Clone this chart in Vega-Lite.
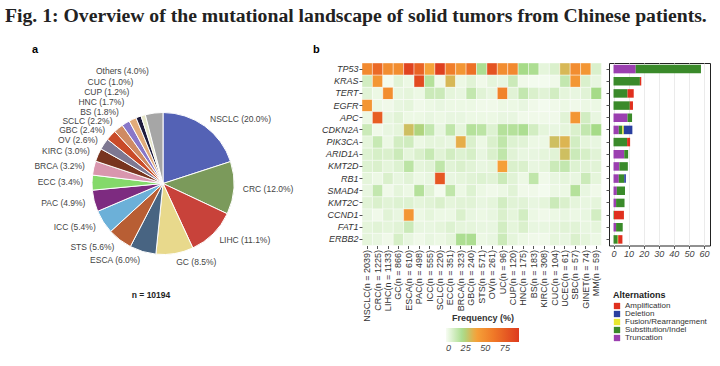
{
  "$schema": "https://vega.github.io/schema/vega-lite/v6.json",
  "padding": {"left": 5, "top": 5, "right": 5, "bottom": 0},
  "title": {"text": "Fig. 1: Overview of the mutational landscape of solid tumors from Chinese patients.", "anchor": "start", "font": "Liberation Serif", "fontSize": 19.7, "fontWeight": "bold", "color": "#222222", "offset": 18},
  "spacing": -8,
  "config": {"view": {"stroke": null}, "font": "Liberation Sans"},
  "datasets": {
    "pie": [
      {"type": "NSCLC", "label": "NSCLC (20.0%)", "pct": 20.0},
      {"type": "CRC", "label": "CRC (12.0%)", "pct": 12.0},
      {"type": "LIHC", "label": "LIHC (11.1%)", "pct": 11.1},
      {"type": "GC", "label": "GC (8.5%)", "pct": 8.5},
      {"type": "ESCA", "label": "ESCA (6.0%)", "pct": 6.0},
      {"type": "STS", "label": "STS (5.6%)", "pct": 5.6},
      {"type": "ICC", "label": "ICC (5.4%)", "pct": 5.4},
      {"type": "PAC", "label": "PAC (4.9%)", "pct": 4.9},
      {"type": "ECC", "label": "ECC (3.4%)", "pct": 3.4},
      {"type": "BRCA", "label": "BRCA (3.2%)", "pct": 3.2},
      {"type": "KIRC", "label": "KIRC (3.0%)", "pct": 3.0},
      {"type": "OV", "label": "OV (2.6%)", "pct": 2.6},
      {"type": "GBC", "label": "GBC (2.4%)", "pct": 2.4},
      {"type": "SCLC", "label": "SCLC (2.2%)", "pct": 2.2},
      {"type": "BS", "label": "BS (1.8%)", "pct": 1.8},
      {"type": "HNC", "label": "HNC (1.7%)", "pct": 1.7},
      {"type": "CUP", "label": "CUP (1.2%)", "pct": 1.2},
      {"type": "CUC", "label": "CUC (1.0%)", "pct": 1.0},
      {"type": "Others", "label": "Others (4.0%)", "pct": 4.0}
    ],
    "note": [{"n": "n = 10194"}],
    "heat": [
      {"tumor": "NSCLC(n = 2039)", "TP53": 52, "KRAS": 10, "TERT": 6, "EGFR": 45, "APC": 3, "CDKN2A": 12, "PIK3CA": 5, "ARID1A": 7, "KMT2D": 7, "RB1": 5, "SMAD4": 4, "KMT2C": 6, "CCND1": 4, "FAT1": 5, "ERBB2": 5},
      {"tumor": "CRC(n = 1225)", "TP53": 68, "KRAS": 45, "TERT": 3, "EGFR": 3, "APC": 75, "CDKN2A": 2, "PIK3CA": 13, "ARID1A": 9, "KMT2D": 8, "RB1": 3, "SMAD4": 14, "KMT2C": 8, "CCND1": 2, "FAT1": 6, "ERBB2": 4},
      {"tumor": "LIHC(n = 1133)", "TP53": 50, "KRAS": 1, "TERT": 50, "EGFR": 2, "APC": 4, "CDKN2A": 4, "PIK3CA": 3, "ARID1A": 8, "KMT2D": 5, "RB1": 8, "SMAD4": 2, "KMT2C": 6, "CCND1": 6, "FAT1": 5, "ERBB2": 2},
      {"tumor": "GC(n = 866)", "TP53": 50, "KRAS": 6, "TERT": 4, "EGFR": 4, "APC": 6, "CDKN2A": 5, "PIK3CA": 10, "ARID1A": 12, "KMT2D": 7, "RB1": 4, "SMAD4": 5, "KMT2C": 7, "CCND1": 4, "FAT1": 6, "ERBB2": 9},
      {"tumor": "ESCA(n = 610)", "TP53": 88, "KRAS": 3, "TERT": 5, "EGFR": 5, "APC": 3, "CDKN2A": 30, "PIK3CA": 11, "ARID1A": 5, "KMT2D": 16, "RB1": 6, "SMAD4": 3, "KMT2C": 7, "CCND1": 45, "FAT1": 12, "ERBB2": 4},
      {"tumor": "PAC(n = 498)", "TP53": 72, "KRAS": 85, "TERT": 3, "EGFR": 2, "APC": 3, "CDKN2A": 24, "PIK3CA": 3, "ARID1A": 8, "KMT2D": 5, "RB1": 3, "SMAD4": 18, "KMT2C": 5, "CCND1": 3, "FAT1": 4, "ERBB2": 2},
      {"tumor": "ICC(n = 555)", "TP53": 38, "KRAS": 18, "TERT": 12, "EGFR": 3, "APC": 4, "CDKN2A": 14, "PIK3CA": 5, "ARID1A": 13, "KMT2D": 6, "RB1": 4, "SMAD4": 6, "KMT2C": 6, "CCND1": 5, "FAT1": 4, "ERBB2": 4},
      {"tumor": "SCLC(n = 220)", "TP53": 90, "KRAS": 2, "TERT": 12, "EGFR": 4, "APC": 3, "CDKN2A": 4, "PIK3CA": 5, "ARID1A": 6, "KMT2D": 15, "RB1": 78, "SMAD4": 1, "KMT2C": 8, "CCND1": 3, "FAT1": 5, "ERBB2": 3},
      {"tumor": "ECC(n = 351)", "TP53": 58, "KRAS": 32, "TERT": 5, "EGFR": 3, "APC": 4, "CDKN2A": 15, "PIK3CA": 4, "ARID1A": 10, "KMT2D": 6, "RB1": 4, "SMAD4": 15, "KMT2C": 5, "CCND1": 3, "FAT1": 7, "ERBB2": 5},
      {"tumor": "BRCA(n = 323)", "TP53": 45, "KRAS": 3, "TERT": 4, "EGFR": 3, "APC": 4, "CDKN2A": 5, "PIK3CA": 35, "ARID1A": 7, "KMT2D": 8, "RB1": 5, "SMAD4": 3, "KMT2C": 6, "CCND1": 8, "FAT1": 5, "ERBB2": 20},
      {"tumor": "GBC(n = 240)", "TP53": 65, "KRAS": 6, "TERT": 14, "EGFR": 3, "APC": 3, "CDKN2A": 18, "PIK3CA": 8, "ARID1A": 9, "KMT2D": 6, "RB1": 6, "SMAD4": 7, "KMT2C": 6, "CCND1": 4, "FAT1": 5, "ERBB2": 20},
      {"tumor": "STS(n = 571)", "TP53": 20, "KRAS": 2, "TERT": 6, "EGFR": 2, "APC": 3, "CDKN2A": 16, "PIK3CA": 3, "ARID1A": 4, "KMT2D": 4, "RB1": 7, "SMAD4": 3, "KMT2C": 4, "CCND1": 3, "FAT1": 4, "ERBB2": 3},
      {"tumor": "OV(n = 261)", "TP53": 80, "KRAS": 5, "TERT": 4, "EGFR": 2, "APC": 3, "CDKN2A": 7, "PIK3CA": 8, "ARID1A": 8, "KMT2D": 5, "RB1": 6, "SMAD4": 2, "KMT2C": 5, "CCND1": 4, "FAT1": 4, "ERBB2": 4},
      {"tumor": "UC(n = 96)", "TP53": 50, "KRAS": 4, "TERT": 55, "EGFR": 3, "APC": 4, "CDKN2A": 18, "PIK3CA": 15, "ARID1A": 15, "KMT2D": 40, "RB1": 12, "SMAD4": 3, "KMT2C": 10, "CCND1": 8, "FAT1": 10, "ERBB2": 12},
      {"tumor": "CUP(n = 120)", "TP53": 52, "KRAS": 12, "TERT": 6, "EGFR": 3, "APC": 4, "CDKN2A": 18, "PIK3CA": 7, "ARID1A": 6, "KMT2D": 8, "RB1": 6, "SMAD4": 6, "KMT2C": 6, "CCND1": 5, "FAT1": 5, "ERBB2": 5},
      {"tumor": "HNC(n = 175)", "TP53": 22, "KRAS": 2, "TERT": 14, "EGFR": 4, "APC": 2, "CDKN2A": 20, "PIK3CA": 6, "ARID1A": 4, "KMT2D": 8, "RB1": 3, "SMAD4": 2, "KMT2C": 6, "CCND1": 10, "FAT1": 8, "ERBB2": 3},
      {"tumor": "BS(n = 183)", "TP53": 20, "KRAS": 1, "TERT": 8, "EGFR": 2, "APC": 2, "CDKN2A": 10, "PIK3CA": 3, "ARID1A": 4, "KMT2D": 4, "RB1": 15, "SMAD4": 2, "KMT2C": 4, "CCND1": 3, "FAT1": 4, "ERBB2": 2},
      {"tumor": "KIRC(n = 308)", "TP53": 5, "KRAS": 1, "TERT": 6, "EGFR": 1, "APC": 2, "CDKN2A": 5, "PIK3CA": 3, "ARID1A": 5, "KMT2D": 5, "RB1": 2, "SMAD4": 1, "KMT2C": 5, "CCND1": 2, "FAT1": 4, "ERBB2": 2},
      {"tumor": "CUC(n = 104)", "TP53": 8, "KRAS": 2, "TERT": 10, "EGFR": 2, "APC": 2, "CDKN2A": 4, "PIK3CA": 30, "ARID1A": 6, "KMT2D": 12, "RB1": 4, "SMAD4": 3, "KMT2C": 12, "CCND1": 3, "FAT1": 5, "ERBB2": 5},
      {"tumor": "UCEC(n = 61)", "TP53": 32, "KRAS": 14, "TERT": 5, "EGFR": 3, "APC": 6, "CDKN2A": 5, "PIK3CA": 33, "ARID1A": 30, "KMT2D": 14, "RB1": 5, "SMAD4": 3, "KMT2C": 8, "CCND1": 4, "FAT1": 6, "ERBB2": 4},
      {"tumor": "SBC(n = 57)", "TP53": 50, "KRAS": 45, "TERT": 4, "EGFR": 2, "APC": 45, "CDKN2A": 8, "PIK3CA": 10, "ARID1A": 12, "KMT2D": 7, "RB1": 4, "SMAD4": 18, "KMT2C": 5, "CCND1": 3, "FAT1": 6, "ERBB2": 8},
      {"tumor": "GINET(n = 74)", "TP53": 45, "KRAS": 8, "TERT": 6, "EGFR": 3, "APC": 10, "CDKN2A": 14, "PIK3CA": 5, "ARID1A": 9, "KMT2D": 6, "RB1": 12, "SMAD4": 4, "KMT2C": 4, "CCND1": 4, "FAT1": 4, "ERBB2": 5},
      {"tumor": "MM(n = 59)", "TP53": 8, "KRAS": 4, "TERT": 22, "EGFR": 3, "APC": 4, "CDKN2A": 22, "PIK3CA": 4, "ARID1A": 6, "KMT2D": 6, "RB1": 5, "SMAD4": 2, "KMT2C": 5, "CCND1": 10, "FAT1": 5, "ERBB2": 3}
    ],
    "bars": [
      {"gene": "TP53", "type": "Truncation", "value": 14.7},
      {"gene": "TP53", "type": "Substitution/Indel", "value": 43.3},
      {"gene": "KRAS", "type": "Substitution/Indel", "value": 17.5},
      {"gene": "KRAS", "type": "Amplification", "value": 0.9},
      {"gene": "TERT", "type": "Substitution/Indel", "value": 9.3},
      {"gene": "TERT", "type": "Amplification", "value": 4.1},
      {"gene": "EGFR", "type": "Substitution/Indel", "value": 10.8},
      {"gene": "EGFR", "type": "Amplification", "value": 2.1},
      {"gene": "APC", "type": "Truncation", "value": 9.3},
      {"gene": "APC", "type": "Substitution/Indel", "value": 3.0},
      {"gene": "CDKN2A", "type": "Truncation", "value": 3.5},
      {"gene": "CDKN2A", "type": "Substitution/Indel", "value": 2.3},
      {"gene": "CDKN2A", "type": "Fusion/Rearrangement", "value": 1.0},
      {"gene": "CDKN2A", "type": "Deletion", "value": 5.7},
      {"gene": "PIK3CA", "type": "Substitution/Indel", "value": 9.0},
      {"gene": "PIK3CA", "type": "Amplification", "value": 2.0},
      {"gene": "ARID1A", "type": "Truncation", "value": 7.1},
      {"gene": "ARID1A", "type": "Substitution/Indel", "value": 2.6},
      {"gene": "KMT2D", "type": "Truncation", "value": 3.9},
      {"gene": "KMT2D", "type": "Substitution/Indel", "value": 5.6},
      {"gene": "RB1", "type": "Truncation", "value": 3.5},
      {"gene": "RB1", "type": "Substitution/Indel", "value": 3.6},
      {"gene": "RB1", "type": "Deletion", "value": 1.1},
      {"gene": "SMAD4", "type": "Truncation", "value": 2.2},
      {"gene": "SMAD4", "type": "Substitution/Indel", "value": 5.4},
      {"gene": "KMT2C", "type": "Truncation", "value": 1.7},
      {"gene": "KMT2C", "type": "Substitution/Indel", "value": 5.6},
      {"gene": "CCND1", "type": "Substitution/Indel", "value": 0.3},
      {"gene": "CCND1", "type": "Amplification", "value": 6.6},
      {"gene": "FAT1", "type": "Truncation", "value": 1.7},
      {"gene": "FAT1", "type": "Substitution/Indel", "value": 4.4},
      {"gene": "ERBB2", "type": "Substitution/Indel", "value": 2.8},
      {"gene": "ERBB2", "type": "Fusion/Rearrangement", "value": 0.3},
      {"gene": "ERBB2", "type": "Amplification", "value": 2.8}
    ]
  },
  "hconcat": [
    {
      "width": 316,
      "height": 241,
      "title": {"text": "a", "anchor": "start", "frame": "group", "dx": 27, "fontSize": 11, "fontWeight": "bold", "font": "Liberation Sans", "offset": 8},
      "data": {"name": "pie"},
      "transform": [{"window": [{"op": "row_number", "as": "rank"}]}],
      "layer": [
        {
          "mark": {"type": "arc", "outerRadius": 71, "stroke": "white", "strokeWidth": 1},
          "encoding": {
            "theta": {"field": "pct", "type": "quantitative", "stack": true},
            "order": {"field": "rank", "type": "quantitative"},
            "color": {"field": "type", "type": "nominal", "legend": null,
              "scale": {"domain": ["NSCLC","CRC","LIHC","GC","ESCA","STS","ICC","PAC","ECC","BRCA","KIRC","OV","GBC","SCLC","BS","HNC","CUP","CUC","Others"],
                        "range": ["#5462b5","#7b9a5b","#c8423a","#e8d98c","#486482","#b85e34","#6cb0d8","#7d2b80","#84d96a","#d996ae","#78341f","#7e7892","#c94b28","#cf8a63","#8977c8","#e2ab7a","#1f1b3c","#e6e6c8","#a6a6a6"]}}
          }
        },
        {
          "mark": {"type": "text", "radius": 80, "align": "left", "baseline": "middle", "fontSize": 8.5, "font": "Liberation Sans", "color": "#444444"},
          "encoding": {
            "theta": {"field": "pct", "type": "quantitative", "stack": true},
            "order": {"field": "rank", "type": "quantitative"},
            "text": {"condition": {"test": "indexof(['NSCLC','CRC','LIHC','GC'], datum.type) >= 0", "field": "label"}, "value": ""}
          }
        },
        {
          "mark": {"type": "text", "radius": {"expr": "datum.type == 'Others' ? 113 : datum.type == 'CUC' ? 106 : datum.type == 'CUP' ? 97.5 : datum.type == 'HNC' ? 90.5 : datum.type == 'BS' ? 84 : datum.type == 'SCLC' ? 80.5 : datum.type == 'GBC' ? 79 : datum.type == 'OV' ? 78.5 : 80"}, "align": "right", "baseline": "middle", "fontSize": 8.5, "font": "Liberation Sans", "color": "#444444"},
          "encoding": {
            "theta": {"field": "pct", "type": "quantitative", "stack": true},
            "order": {"field": "rank", "type": "quantitative"},
            "text": {"condition": {"test": "indexof(['NSCLC','CRC','LIHC','GC'], datum.type) < 0", "field": "label"}, "value": ""}
          }
        },
        {
          "data": {"name": "note"},
          "mark": {"type": "text", "fontSize": 8.5, "fontWeight": "bold", "font": "Liberation Sans", "color": "#222222", "dx": -12, "dy": 111},
          "encoding": {"text": {"field": "n", "type": "nominal"}}
        }
      ]
    },
    {
      "spacing": 3,
      "hconcat": [
        {
          "width": 239.4,
          "height": 182.5,
          "title": {"text": "b", "anchor": "start", "frame": "group", "dx": -49, "fontSize": 11, "fontWeight": "bold", "font": "Liberation Sans", "offset": 8},
          "data": {"name": "heat"},
          "transform": [{"fold": ["TP53","KRAS","TERT","EGFR","APC","CDKN2A","PIK3CA","ARID1A","KMT2D","RB1","SMAD4","KMT2C","CCND1","FAT1","ERBB2"], "as": ["gene", "freq"]}],
          "mark": {"type": "rect", "stroke": "white", "strokeWidth": 0.4},
          "encoding": {
            "x": {"field": "tumor", "type": "nominal", "sort": null, "title": null,
              "axis": {"labelAngle": -90, "labelFontSize": 9, "labelFont": "Liberation Sans", "labelColor": "#333333", "tickSize": 3, "tickColor": "#555555", "domain": false, "labelPadding": 1}},
            "y": {"field": "gene", "type": "nominal", "title": null,
              "sort": ["TP53","KRAS","TERT","EGFR","APC","CDKN2A","PIK3CA","ARID1A","KMT2D","RB1","SMAD4","KMT2C","CCND1","FAT1","ERBB2"],
              "axis": {"labelFontSize": 9, "labelFont": "Liberation Sans", "labelFontStyle": "italic", "labelColor": "#333333", "tickSize": 3, "tickColor": "#555555", "domain": false, "labelPadding": 1}},
            "color": {"field": "freq", "type": "quantitative",
              "scale": {"domain": [0, 22, 38, 60, 93], "range": ["#f7fcf3", "#a6db88", "#f5a33a", "#f07a28", "#dd3a1e"], "interpolate": "rgb"},
              "legend": {"title": "Frequency (%)", "orient": "none", "legendX": 84, "legendY": 251, "direction": "horizontal", "gradientLength": 73, "gradientThickness": 14, "values": [0, 25, 50, 75], "titleAnchor": "middle", "titleFontSize": 9, "titleFont": "Liberation Sans", "titleColor": "#333333", "labelFontSize": 9, "labelFont": "Liberation Sans", "labelFontStyle": "italic", "labelColor": "#444444"}}
          }
        },
        {
          "width": 101,
          "height": 182.5,
          "view": {"stroke": "#222222", "strokeWidth": 1},
          "title": {"text": " ", "anchor": "start", "fontSize": 11, "font": "Liberation Sans", "offset": 8},
          "data": {"name": "bars"},
          "mark": {"type": "bar"},
          "encoding": {
            "y": {"field": "gene", "type": "nominal", "title": null,
              "sort": ["TP53","KRAS","TERT","EGFR","APC","CDKN2A","PIK3CA","ARID1A","KMT2D","RB1","SMAD4","KMT2C","CCND1","FAT1","ERBB2"],
              "scale": {"paddingInner": 0.3, "paddingOuter": 0.15},
              "axis": {"labels": false, "domain": false, "tickSize": 3, "tickColor": "#555555"}},
            "x": {"field": "value", "type": "quantitative", "stack": true, "title": null,
              "scale": {"domain": [-3, 64], "nice": false, "zero": false},
              "axis": {"values": [0, 10, 20, 30, 40, 50, 60], "grid": true, "gridColor": "#ebebeb", "domain": false, "tickSize": 3, "tickColor": "#555555", "labelFontSize": 9, "labelFont": "Liberation Sans", "labelFontStyle": "italic", "labelColor": "#444444", "labelPadding": 1}},
            "color": {"field": "type", "type": "nominal",
              "scale": {"domain": ["Amplification", "Deletion", "Fusion/Rearrangement", "Substitution/Indel", "Truncation"], "range": ["#e0301e", "#2a3f9f", "#e8e830", "#3a8a2a", "#9b3fb0"]},
              "legend": {"title": "Alternations", "orient": "none", "legendX": 4, "legendY": 228, "direction": "vertical", "symbolType": "square", "symbolSize": 40, "symbolStrokeWidth": 0, "titleFontSize": 9, "titleFont": "Liberation Sans", "titleColor": "#222222", "labelFontSize": 8, "labelFont": "Liberation Sans", "labelColor": "#333333", "rowPadding": 0, "titlePadding": 2}},
            "order": {"field": "type", "sort": "descending"}
          }
        }
      ]
    }
  ]
}
